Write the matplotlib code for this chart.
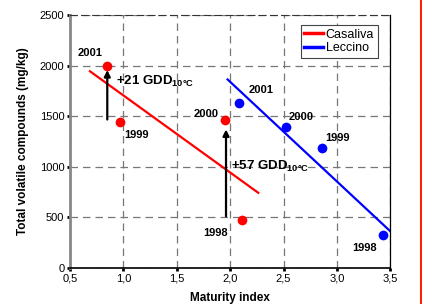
import matplotlib
matplotlib.use('Agg')
import matplotlib.pyplot as plt
from matplotlib.lines import Line2D

plt.rcParams['font.family'] = ['Liberation Sans', 'DejaVu Sans']
plt.rcParams['mathtext.fontset'] = 'custom'
plt.rcParams['mathtext.rm'] = 'Liberation Sans:bold'
plt.rcParams['mathtext.it'] = 'Liberation Sans:bold'
plt.rcParams['mathtext.bf'] = 'Liberation Sans:bold'
plt.rcParams['mathtext.default'] = 'rm'

# data
years = ['1998', '1999', '2000', '2001']
cas_x = [2.11, 0.968, 1.951, 0.849]
cas_y = [471, 1437, 1459, 1997]
lec_x = [3.428, 2.862, 2.522, 2.085]
lec_y = [323, 1180, 1387, 1634]

cas_fit_x = [0.687, 2.263]
cas_fit_y = [1943, 741]
lec_fit_x = [1.976, 3.5]
lec_fit_y = [1862, 360]

# data positions of the year labels
cas_lab = [(1.86, 346), (1.123, 1311), (1.773, 1525), (0.687, 2121)]
lec_lab = [(3.256, 195), (3.006, 1279), (2.669, 1492), (2.288, 1756)]

arrows = [(0.849, 1466, 1955, '+21 GDD$_{10°C}$', 0.931, 1838),
          (1.961, 508, 1368, '+57 GDD$_{10°C}$', 2.007, 1005)]

fig = plt.figure(figsize=(4.22, 3.04), dpi=100)
ax = fig.add_axes([0.1659, 0.1194, 0.7591, 0.8313])

ax.plot(cas_fit_x, cas_fit_y, color='#ff0000', lw=1.6, label='Casaliva')
ax.plot(lec_fit_x, lec_fit_y, color='#0000ff', lw=1.6, label='Leccino')
ax.plot(cas_x, cas_y, 'o', color='#ff0000', ms=7, mec='none')
ax.plot(lec_x, lec_y, 'o', color='#0000ff', ms=7, mec='none')

for (lx, ly), yr in zip(cas_lab, years):
    ax.text(lx, ly, yr, fontsize=8, fontweight='bold', ha='center', va='center')
for (lx, ly), yr in zip(lec_lab, years):
    ax.text(lx, ly, yr, fontsize=8, fontweight='bold', ha='center', va='center')

for x, y0, y1, txt, tx, ty in arrows:
    ax.annotate('', xy=(x, y1), xytext=(x, y0),
                arrowprops=dict(arrowstyle='-|>', color='black', lw=1.6,
                                mutation_scale=9, shrinkA=0, shrinkB=0))
    ax.text(tx, ty, txt, fontsize=9.5, fontweight='bold', ha='left', va='center')

ax.set_xlim(0.5, 3.5)
ax.set_ylim(0, 2500)
xt = [0.5, 1.0, 1.5, 2.0, 2.5, 3.0, 3.5]
ax.set_xticks(xt)
ax.set_xticklabels([('%.1f' % v).replace('.', ',') for v in xt])
ax.set_yticks([0, 500, 1000, 1500, 2000, 2500])
ax.tick_params(labelsize=8, length=2, width=2, direction='out', pad=2)
ax.grid(True, ls=(0, (6, 4)), color='#777777', lw=0.9)
ax.set_axisbelow(True)

ax.spines['left'].set_color('#888888')
ax.spines['left'].set_linewidth(2)
ax.spines['bottom'].set_linewidth(1.2)
ax.spines['right'].set_linewidth(0.9)
ax.spines['top'].set_linestyle((0, (6, 4)))
ax.spines['top'].set_color('#333333')

ax.set_xlabel('Maturity index', fontsize=8.5, fontweight='bold', labelpad=6)
ax.set_ylabel('Total volatile compounds (mg/kg)', fontsize=8.5, fontweight='bold', labelpad=8)

leg = ax.legend(loc='upper right', fontsize=9, handlelength=1.5, handletextpad=0.2,
                borderpad=0.3, labelspacing=0.1, fancybox=False, framealpha=1,
                edgecolor='#444444', bbox_to_anchor=(0.98, 0.985))
leg.get_frame().set_linewidth(0.8)
for l in leg.get_lines():
    l.set_linewidth(2.5)

# red border stroke at the right edge
fig.add_artist(Line2D([0.997, 0.997], [0, 1], transform=fig.transFigure,
                      color='#ff2200', lw=1.5))

fig.savefig('out.png', dpi=100)
